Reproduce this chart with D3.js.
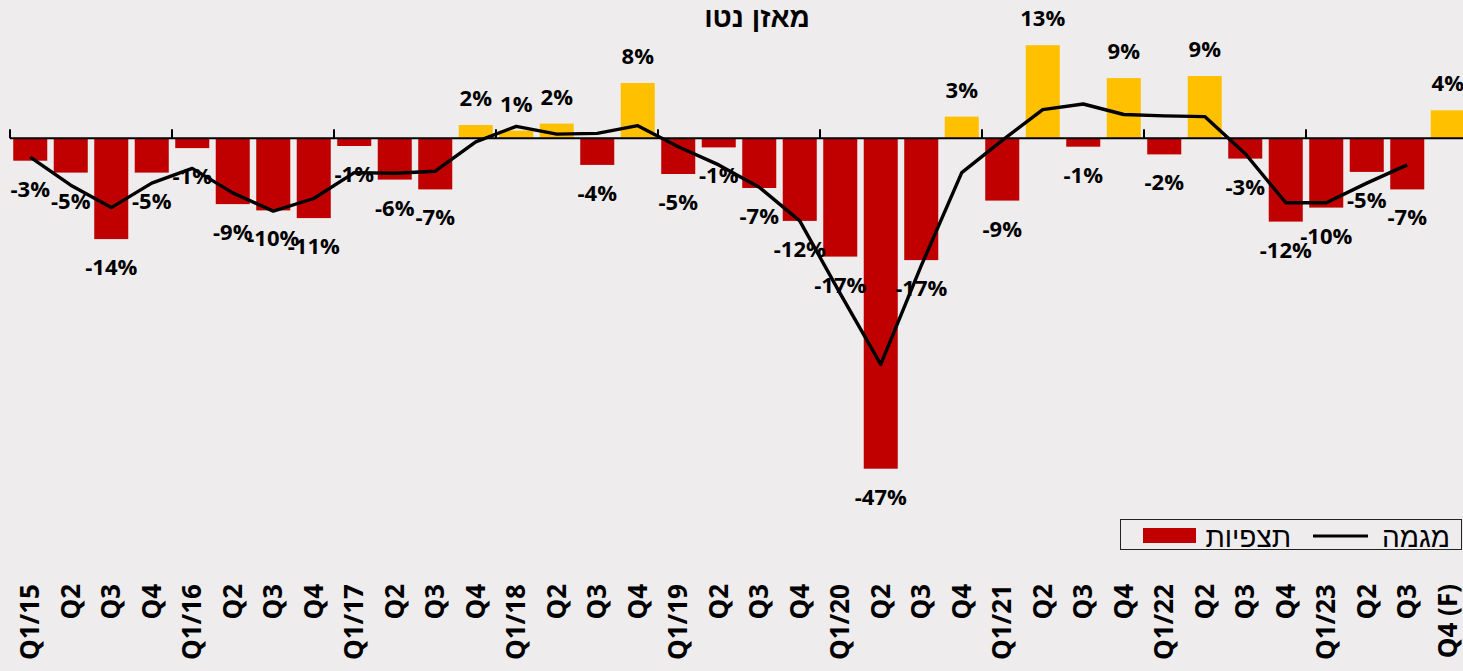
<!DOCTYPE html>
<html>
<head>
<meta charset="utf-8">
<script src="https://cdn.jsdelivr.net/npm/d3@7"></script>
<style>
  html, body { margin: 0; padding: 0; background: #eeeced; overflow: hidden; }
  svg { display: block; }
  .tick text { font-family: "Open Sans", sans-serif; font-weight: bold; }
</style>
</head>
<body>
<div id="chart"></div>
<script>
// quarter labels (x axis)
var quarterLabels = ["Q1/15", "Q2", "Q3", "Q4", "Q1/16", "Q2", "Q3", "Q4",
    "Q1/17", "Q2", "Q3", "Q4", "Q1/18", "Q2", "Q3", "Q4",
    "Q1/19", "Q2", "Q3", "Q4", "Q1/20", "Q2", "Q3", "Q4",
    "Q1/21", "Q2", "Q3", "Q4", "Q1/22", "Q2", "Q3", "Q4",
    "Q1/23", "Q2", "Q3", "Q4 (F)"];

// observations (%), bars
var observed = [-3.2, -4.9, -14.4, -4.9, -1.4, -9.4, -10.3, -11.4,
    -1.1, -5.9, -7.3, 1.9, 1.1, 2.1, -3.8, 7.9,
    -5.1, -1.3, -7.1, -11.8, -16.9, -47.2, -17.4, 3.1,
    -8.9, 13.3, -1.2, 8.6, -2.3, 8.9, -2.9, -11.9,
    -9.9, -4.8, -7.3, 4.0];

// trend (%), line - no value for the forecast quarter
var trend = [-2.7, -6.7, -9.9, -6.4, -4.3, -7.8, -10.4, -8.6,
    -4.9, -5.0, -4.7, -0.5, 1.7, 0.6, 0.7, 1.8,
    -1.2, -3.8, -7.0, -11.8, -22.2, -32.3, -18.2, -4.9,
    -0.3, 4.1, 4.9, 3.4, 3.2, 3.1, -2.2, -9.2,
    -9.2, -6.4, -3.8, null];

var legendLabels = ["מגמה", "תצפיות"];
var title = "מאזן נטו";

var width = 1463, height = 671;
var red = "#c00000", yellow = "#ffc000";
var hebFont = "Arial, 'Liberation Sans', 'DejaVu Sans', sans-serif";

var svg = d3.select("#chart").append("svg")
    .attr("width", width)
    .attr("height", height);

svg.append("rect")
    .attr("width", width)
    .attr("height", height)
    .attr("fill", "#eeeced");

// scales
var x = d3.scaleBand()
    .domain(d3.range(quarterLabels.length))
    .range([10, 10 + 36 * 40.5])
    .paddingInner(0.16)
    .paddingOuter(0.08);

var y = d3.scaleLinear()
    .domain([-50, 15])
    .range([138.3 + 50 * 7, 138.3 - 15 * 7]);

// title
svg.append("text")
    .attr("x", 757)
    .attr("y", 27)
    .attr("text-anchor", "middle")
    .style("font-family", hebFont)
    .style("font-weight", "bold")
    .style("font-size", "28px")
    .text(title);

// bars
svg.selectAll(".bar")
    .data(observed)
    .enter()
    .append("rect")
    .attr("class", "bar")
    .attr("x", (d, i) => x(i))
    .attr("width", x.bandwidth())
    .attr("y", d => d >= 0 ? y(d) : y(0))
    .attr("height", d => Math.abs(y(d) - y(0)))
    .attr("fill", d => d >= 0 ? yellow : red);

// zero line + year ticks
svg.append("line")
    .attr("x1", 10).attr("x2", width)
    .attr("y1", y(0)).attr("y2", y(0))
    .attr("stroke", "#000")
    .attr("stroke-width", 2);

var yearStarts = d3.range(0, quarterLabels.length, 4);
svg.selectAll(".yeartick")
    .data(yearStarts)
    .enter()
    .append("line")
    .attr("class", "yeartick")
    .attr("x1", d => x(d) - x.step() * x.paddingOuter())
    .attr("x2", d => x(d) - x.step() * x.paddingOuter())
    .attr("y1", y(0))
    .attr("y2", y(0) - 9)
    .attr("stroke", "#000")
    .attr("stroke-width", 2);

// trend line
var line = d3.line()
    .defined(d => d != null)
    .x((d, i) => x(i) + x.bandwidth() / 2)
    .y(d => y(d));

svg.append("path")
    .datum(trend)
    .attr("d", line)
    .attr("fill", "none")
    .attr("stroke", "#000")
    .attr("stroke-width", 3.4)
    .attr("stroke-linejoin", "round");

// value labels
svg.selectAll(".vlabel")
    .data(observed)
    .enter()
    .append("text")
    .attr("class", "vlabel")
    .attr("x", (d, i) => x(i) + x.bandwidth() / 2)
    .attr("y", d => d >= 0 ? y(d) - 19 : y(d) + 36)
    .attr("text-anchor", "middle")
    .style("font-family", "'Open Sans', sans-serif")
    .style("font-weight", "bold")
    .style("font-size", "22px")
    .text(d => Math.round(d) + "%");

// x axis labels at the bottom
var xAxis = d3.axisBottom(x)
    .tickSize(0)
    .tickFormat(i => quarterLabels[i]);

var axisG = svg.append("g")
    .attr("transform", "translate(0,584)")
    .call(xAxis);

axisG.select(".domain").remove();
axisG.selectAll(".tick text")
    .attr("transform", "rotate(-90)")
    .attr("x", 0)
    .attr("y", 0)
    .attr("dy", "0.35em")
    .attr("text-anchor", "end")
    .style("font-size", "26px")
    .attr("fill", "#000");

// legend
var legend = svg.append("g");
legend.append("rect")
    .attr("x", 1120.5).attr("y", 519.5)
    .attr("width", 341).attr("height", 30)
    .attr("fill", "none")
    .attr("stroke", "#222")
    .attr("stroke-width", 1);

legend.append("line")
    .attr("x1", 1313).attr("x2", 1368)
    .attr("y1", 536).attr("y2", 536)
    .attr("stroke", "#000")
    .attr("stroke-width", 3);

legend.append("rect")
    .attr("x", 1143).attr("y", 528)
    .attr("width", 53).attr("height", 15)
    .attr("fill", red);

legend.selectAll(".ltext")
    .data(legendLabels)
    .enter()
    .append("text")
    .attr("class", "ltext")
    .attr("x", (d, i) => i == 0 ? 1450 : 1291)
    .attr("y", 547)
    .attr("text-anchor", "end")
    .style("font-family", hebFont)
    .style("font-size", "28px")
    .text(d => d);
</script>
</body>
</html>
